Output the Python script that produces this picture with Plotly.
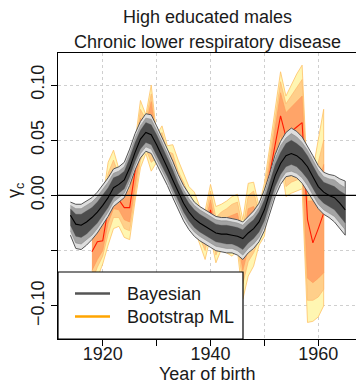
import plotly.graph_objects as go

# ---------------- data ----------------
bay_years = list(range(1914, 1966))
bay_mid = [-0.018, -0.026, -0.027, -0.024, -0.020, -0.015, -0.009, -0.002, 0.007, 0.010,
           0.014, 0.025, 0.039, 0.051, 0.057, 0.055, 0.046, 0.036, 0.025, 0.014,
           0.003, -0.007, -0.015, -0.021, -0.025, -0.028, -0.031, -0.034, -0.035, -0.035,
           -0.036, -0.037, -0.039, -0.034, -0.030, -0.024, -0.013, 0.002, 0.018, 0.029,
           0.036, 0.038, 0.036, 0.032, 0.026, 0.017, 0.008, 0.003, 0.000, -0.002,
           -0.007, -0.013]
bay_lo95 = [-0.036, -0.048, -0.049, -0.045, -0.040, -0.034, -0.027, -0.019, -0.010, -0.006,
            -0.002, 0.009, 0.023, 0.034, 0.040, 0.038, 0.029, 0.019, 0.009, -0.002,
            -0.013, -0.023, -0.031, -0.037, -0.041, -0.044, -0.047, -0.050, -0.051, -0.052,
            -0.052, -0.054, -0.058, -0.052, -0.048, -0.042, -0.032, -0.016, -0.001, 0.010,
            0.017, 0.018, 0.016, 0.011, 0.004, -0.004, -0.012, -0.017, -0.020, -0.024,
            -0.030, -0.036]
bay_hi95 = [-0.006, -0.008, -0.008, -0.005, -0.002, 0.003, 0.009, 0.016, 0.024, 0.026,
            0.030, 0.042, 0.056, 0.067, 0.074, 0.073, 0.063, 0.053, 0.042, 0.031,
            0.019, 0.009, 0.001, -0.006, -0.010, -0.013, -0.016, -0.019, -0.020, -0.020,
            -0.021, -0.022, -0.024, -0.019, -0.014, -0.007, 0.005, 0.020, 0.037, 0.049,
            0.057, 0.061, 0.058, 0.053, 0.045, 0.036, 0.027, 0.021, 0.019, 0.018,
            0.015, 0.013]
bay_lo80 = [-0.032, -0.043, -0.044, -0.040, -0.036, -0.030, -0.023, -0.015, -0.006, -0.002,
            0.002, 0.013, 0.027, 0.038, 0.044, 0.042, 0.033, 0.023, 0.013, 0.002,
            -0.009, -0.019, -0.027, -0.033, -0.037, -0.040, -0.043, -0.046, -0.047, -0.048,
            -0.048, -0.050, -0.054, -0.048, -0.044, -0.038, -0.028, -0.012, 0.003, 0.014,
            0.021, 0.022, 0.020, 0.016, 0.009, 0.001, -0.008, -0.013, -0.016, -0.019,
            -0.025, -0.031]
bay_hi80 = [-0.009, -0.012, -0.012, -0.009, -0.006, -0.001, 0.005, 0.012, 0.020, 0.022,
            0.026, 0.038, 0.052, 0.063, 0.070, 0.069, 0.059, 0.049, 0.038, 0.027,
            0.015, 0.005, -0.003, -0.009, -0.013, -0.016, -0.019, -0.022, -0.023, -0.023,
            -0.024, -0.025, -0.027, -0.022, -0.018, -0.011, 0.001, 0.016, 0.033, 0.045,
            0.052, 0.056, 0.053, 0.048, 0.041, 0.032, 0.023, 0.017, 0.015, 0.014,
            0.010, 0.007]
bay_lo50 = [-0.027, -0.037, -0.038, -0.035, -0.030, -0.025, -0.018, -0.011, -0.002, 0.002,
            0.006, 0.017, 0.031, 0.042, 0.048, 0.046, 0.037, 0.027, 0.017, 0.006,
            -0.005, -0.015, -0.023, -0.029, -0.033, -0.036, -0.039, -0.042, -0.043, -0.044,
            -0.044, -0.046, -0.049, -0.043, -0.039, -0.033, -0.023, -0.007, 0.008, 0.019,
            0.026, 0.028, 0.026, 0.021, 0.015, 0.006, -0.002, -0.007, -0.010, -0.013,
            -0.019, -0.025]
bay_hi50 = [-0.012, -0.017, -0.017, -0.014, -0.011, -0.006, 0.000, 0.007, 0.016, 0.018,
            0.022, 0.034, 0.048, 0.059, 0.066, 0.064, 0.055, 0.045, 0.034, 0.023,
            0.011, 0.001, -0.007, -0.013, -0.017, -0.020, -0.023, -0.026, -0.027, -0.027,
            -0.028, -0.029, -0.031, -0.026, -0.022, -0.015, -0.004, 0.011, 0.028, 0.039,
            0.047, 0.050, 0.047, 0.043, 0.036, 0.027, 0.018, 0.012, 0.010, 0.008,
            0.004, 0.001]

ml_years = list(range(1918, 1962))
ml_mid = [-0.051, -0.042, -0.041, -0.012, 0.000, -0.004, -0.011, -0.011, 0.022, 0.052,
          0.058, 0.070, 0.045, 0.044, 0.030, 0.026, 0.010, 0.000, -0.012, -0.020,
          -0.028, -0.034, -0.013, -0.040, -0.030, -0.030, -0.032, -0.030, -0.055, -0.028,
          -0.026, -0.030, -0.012, 0.020, 0.045, 0.072, 0.053, 0.058, 0.062, 0.066,
          -0.022, -0.043, -0.030, -0.016]
ml_lo1 = [-0.068, -0.058, -0.050, -0.025, -0.012, -0.013, -0.022, -0.024, 0.008, 0.040,
          0.046, 0.040, 0.038, 0.037, 0.026, 0.020, 0.006, -0.004, -0.015, -0.023,
          -0.034, -0.044, -0.020, -0.048, -0.036, -0.038, -0.040, -0.038, -0.068, -0.048,
          -0.042, -0.036, -0.022, 0.010, 0.035, 0.055, 0.020, 0.025, 0.028, 0.030,
          -0.075, -0.079, -0.075, -0.070]
ml_hi1 = [-0.040, -0.030, -0.020, 0.010, 0.022, 0.010, 0.000, 0.005, 0.035, 0.070,
          0.064, 0.085, 0.049, 0.052, 0.036, 0.032, 0.016, 0.006, -0.006, -0.014,
          -0.022, -0.026, -0.004, -0.030, -0.022, -0.020, -0.018, -0.016, -0.040, -0.012,
          -0.010, -0.022, -0.002, 0.030, 0.060, 0.093, 0.075, 0.080, 0.085, 0.090,
          -0.005, -0.005, 0.010, 0.028]
ml_lo2 = [-0.078, -0.065, -0.055, -0.035, -0.020, -0.020, -0.030, -0.032, 0.000, 0.032,
          0.042, 0.030, 0.034, 0.033, 0.022, 0.016, 0.003, -0.008, -0.018, -0.026,
          -0.038, -0.050, -0.028, -0.054, -0.042, -0.044, -0.046, -0.043, -0.080, -0.060,
          -0.052, -0.040, -0.030, 0.004, 0.028, 0.045, 0.008, 0.012, 0.014, 0.016,
          -0.095, -0.095, -0.092, -0.085]
ml_hi2 = [-0.035, -0.022, -0.010, 0.020, 0.032, 0.018, 0.008, 0.012, 0.042, 0.078,
          0.069, 0.092, 0.052, 0.057, 0.040, 0.038, 0.022, 0.012, 0.000, -0.008,
          -0.016, -0.020, 0.004, -0.020, -0.015, -0.012, -0.008, -0.006, -0.030, 0.000,
          0.004, -0.016, 0.005, 0.037, 0.070, 0.103, 0.083, 0.090, 0.098, 0.105,
          0.003, 0.010, 0.030, 0.050]
ml_lo3 = [-0.092, -0.075, -0.062, -0.045, -0.030, -0.028, -0.038, -0.040, -0.005, 0.025,
          0.038, 0.022, 0.030, 0.028, 0.018, 0.010, -0.002, -0.012, -0.022, -0.030,
          -0.043, -0.058, -0.037, -0.061, -0.049, -0.052, -0.055, -0.050, -0.094, -0.073,
          -0.064, -0.045, -0.037, -0.001, 0.020, 0.032, -0.001, 0.002, 0.004, 0.006,
          -0.115, -0.114, -0.110, -0.100]
ml_hi3 = [-0.030, -0.015, -0.004, 0.030, 0.041, 0.024, 0.015, 0.020, 0.048, 0.086,
          0.073, 0.100, 0.055, 0.063, 0.045, 0.046, 0.032, 0.020, 0.008, 0.003,
          -0.010, -0.014, 0.010, -0.010, -0.008, -0.005, -0.001, 0.001, -0.022, 0.011,
          0.012, -0.010, 0.011, 0.044, 0.080, 0.112, 0.090, 0.100, 0.110, 0.118,
          0.010, 0.023, 0.050, 0.078]

x_label_vals = [1920, 1940, 1960]
x_label_text = ["1920", "1940", "1960"]
x_unlabelled_vals = [1930, 1950]
y_label_vals = [-0.10, 0.00, 0.05, 0.10]
y_label_text = ["\u22120.10", "0.00", "0.05", "0.10"]
y_unlabelled_vals = [-0.05]

title_lines = ["High educated males", "Chronic lower respiratory disease"]
legend_labels = ["Bayesian", "Bootstrap ML"]

FONT = "Liberation Sans, Arial, Helvetica, sans-serif"

fig = go.Figure()


def band(xs, lo, hi, fill, line_color=None, line_width=0):
    fig.add_trace(go.Scatter(
        x=list(xs) + list(xs)[::-1], y=list(hi) + list(lo)[::-1],
        fill="toself", fillcolor=fill, mode="lines",
        line=dict(color=line_color or fill, width=line_width if line_width else 0.1),
        hoverinfo="skip", showlegend=False))


# Bootstrap ML bands
band(ml_years, ml_lo3, ml_hi3, "#FFF6B2", "#FFC266", 0.8)
band(ml_years, ml_lo2, ml_hi2, "#FFCF8A", "#FFB266", 0.6)
band(ml_years, ml_lo1, ml_hi1, "#FFA468", "#FF9955", 0.6)
fig.add_trace(go.Scatter(x=ml_years, y=ml_mid, mode="lines",
                         line=dict(color="#FF1A00", width=1.1),
                         hoverinfo="skip", showlegend=False))

# Bayesian bands
band(bay_years, bay_lo95, bay_hi95, "#DEDEDE", "#555555", 1.0)
band(bay_years, bay_lo80, bay_hi80, "#A3A3A3", "#8A8A8A", 0.6)
band(bay_years, bay_lo50, bay_hi50, "#4D4D4D", "#4D4D4D", 0.3)
fig.add_trace(go.Scatter(x=bay_years, y=bay_mid, mode="lines",
                         line=dict(color="#000000", width=1.1),
                         hoverinfo="skip", showlegend=False))

W, H = 356, 383
L, T, B = 58, 53, 44
plot_h = H - T - B

shapes = [
    dict(type="line", xref="paper", yref="y", x0=0, x1=1, y0=0, y1=0,
         line=dict(color="#000000", width=1.2), layer="above"),
    # legend box
    dict(type="rect", xref="paper", yref="paper", x0=0, x1=(243 - L) / (W - L),
         y0=0, y1=(339 - 272) / plot_h, fillcolor="white",
         line=dict(color="#000000", width=1.2), layer="above"),
    dict(type="line", xref="paper", yref="paper", x0=(75 - L) / (W - L), x1=(110 - L) / (W - L),
         y0=(339 - 293.5) / plot_h, y1=(339 - 293.5) / plot_h,
         line=dict(color="#555555", width=2.5), layer="above"),
    dict(type="line", xref="paper", yref="paper", x0=(75 - L) / (W - L), x1=(110 - L) / (W - L),
         y0=(339 - 316.5) / plot_h, y1=(339 - 316.5) / plot_h,
         line=dict(color="#FFA500", width=2.5), layer="above"),
]

annotations = [
    dict(text=title_lines[0], xref="paper", yref="paper", x=0.5, y=(339 - 17) / plot_h,
         xanchor="center", yanchor="middle", showarrow=False,
         font=dict(size=18, color="#1a1a1a", family=FONT)),
    dict(text=title_lines[1], xref="paper", yref="paper", x=0.5, y=(339 - 42) / plot_h,
         xanchor="center", yanchor="middle", showarrow=False,
         font=dict(size=18, color="#1a1a1a", family=FONT)),
    dict(text="Year of birth", xref="paper", yref="paper", x=0.5, y=(339 - 373.5) / plot_h,
         xanchor="center", yanchor="middle", showarrow=False,
         font=dict(size=18, color="#1a1a1a", family=FONT)),
    dict(text="\u03b3<sub>c</sub>", xref="paper", yref="paper", x=(15 - L) / (W - L),
         y=(339 - 190) / plot_h, xanchor="center", yanchor="middle", textangle=-90,
         showarrow=False, font=dict(size=18, color="#1a1a1a", family=FONT)),
    dict(text=legend_labels[0], xref="paper", yref="paper", x=(125 - L) / (W - L),
         y=(339 - 293.5) / plot_h, xanchor="left", yanchor="middle", showarrow=False,
         font=dict(size=18, color="#1a1a1a", family=FONT)),
    dict(text=legend_labels[1], xref="paper", yref="paper", x=(125 - L) / (W - L),
         y=(339 - 316.5) / plot_h, xanchor="left", yanchor="middle", showarrow=False,
         font=dict(size=18, color="#1a1a1a", family=FONT)),
]

grid_style = dict(showgrid=True, gridcolor="#CFCFCF", griddash="dot", gridwidth=1)

fig.update_layout(
    width=W, height=H,
    margin=dict(l=L, r=0, t=T, b=B, pad=0),
    paper_bgcolor="white", plot_bgcolor="white",
    showlegend=False,
    shapes=shapes, annotations=annotations,
    font=dict(family=FONT, size=18, color="#1a1a1a"),
    xaxis=dict(range=[1911.7, 1967.0], tickmode="array",
               tickvals=x_label_vals, ticktext=x_label_text,
               ticks="outside", ticklen=6, tickwidth=1, tickcolor="#000000",
               ticklabelstandoff=-8,
               minor=dict(tickmode="array", tickvals=x_unlabelled_vals, ticks="outside",
                          ticklen=6, tickwidth=1, tickcolor="#000000", **grid_style),
               showline=True, linecolor="#000000", linewidth=1.3, mirror=True,
               zeroline=False, automargin=False,
               tickfont=dict(size=18, family=FONT, color="#1a1a1a"), **grid_style),
    yaxis=dict(range=[-0.130, 0.129], tickmode="array",
               tickvals=y_label_vals, ticktext=y_label_text,
               tickangle=-90, ticks="outside", ticklen=6, tickwidth=1, tickcolor="#000000",
               minor=dict(tickmode="array", tickvals=y_unlabelled_vals, ticks="outside",
                          ticklen=6, tickwidth=1, tickcolor="#000000", **grid_style),
               showline=True, linecolor="#000000", linewidth=1.3, mirror=False,
               zeroline=False, automargin=False,
               tickfont=dict(size=18, family=FONT, color="#1a1a1a"), **grid_style),
)

fig.write_html("out.html")
